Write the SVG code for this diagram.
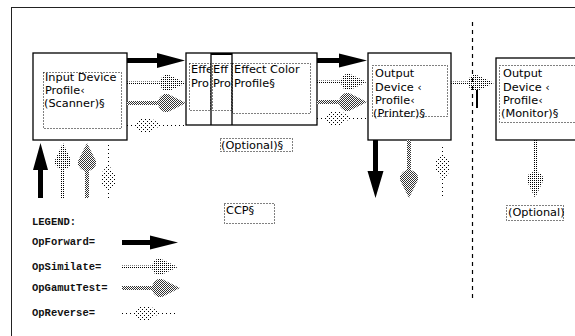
<svg xmlns="http://www.w3.org/2000/svg" width="575" height="336" viewBox="0 0 575 336">
<style>
.box{fill:#fff;stroke:#000;stroke-width:1.3}
.dot{fill:none;stroke:#000;stroke-width:1;stroke-dasharray:1 2}
.t{font-family:"DejaVu Sans",sans-serif;font-size:11.3px;fill:#000}
.lg{font-family:"Liberation Mono",monospace;font-size:10.5px;font-weight:bold;fill:#111}
.fwd{fill:#000}
.sim{fill:url(#pSim)}
.gam{fill:url(#pGam)}
.rev{fill:url(#pRev)}
</style>
<defs>
<pattern id="pSim" width="2" height="2" patternUnits="userSpaceOnUse"><rect width="1" height="1" fill="#000"/></pattern>
<pattern id="pGam" width="2" height="2" patternUnits="userSpaceOnUse"><rect width="2" height="2" fill="#fff"/><rect width="1" height="1" fill="#333"/><rect x="1" y="1" width="1" height="1" fill="#333"/></pattern>
<pattern id="pRev" width="4" height="4" patternUnits="userSpaceOnUse"><rect width="1" height="1" fill="#000"/><rect x="2" y="2" width="1" height="1" fill="#000"/></pattern>
<clipPath id="c1"><rect x="187" y="54" width="23" height="70"/></clipPath>
<clipPath id="c2"><rect x="212" y="56" width="19" height="68"/></clipPath>
</defs>
<rect width="575" height="336" fill="#fff"/>
<rect x="11.5" y="7.5" width="600" height="400" fill="none" stroke="#222" stroke-width="1"/>
<line x1="472.5" y1="22" x2="472.5" y2="302" stroke="#000" stroke-width="1.2" stroke-dasharray="4 4"/>

<g id="input">
<rect class="box" x="33" y="53" width="94" height="87"/>
<rect class="dot" x="43.5" y="72.5" width="78" height="56"/>
<text class="t" x="45" y="81">Input Device</text>
<text class="t" x="45" y="94">Profile‹</text>
<text class="t" x="44" y="107">(Scanner)§</text>
</g>

<g id="effect">
<rect class="box" x="186" y="53" width="131" height="72"/>
<line x1="211" y1="53" x2="211" y2="125" stroke="#000" stroke-width="1.3"/>
<line x1="232" y1="53" x2="232" y2="125" stroke="#000" stroke-width="1.3"/>
<line x1="211" y1="54" x2="232" y2="54" stroke="#000" stroke-width="2"/>
<rect class="dot" x="189.5" y="63.5" width="21" height="47"/>
<rect class="dot" x="212.5" y="63.5" width="19" height="47"/>
<rect class="dot" x="232.5" y="63.5" width="78" height="50"/>
<g clip-path="url(#c1)">
<text class="t" x="191" y="73">Effe</text>
<text class="t" x="191" y="87">Pro</text>
</g>
<g clip-path="url(#c2)">
<text class="t" x="213" y="73">Eff</text>
<text class="t" x="213" y="87">Pro</text>
</g>
<text class="t" x="234" y="73">Effect Color</text>
<text class="t" x="234" y="87">Profile§</text>
</g>

<g id="optional1">
<rect class="dot" x="220.5" y="138.5" width="72" height="13"/>
<text class="t" x="221" y="149">(Optional)§</text>
</g>

<g id="printer">
<rect class="box" x="368" y="53" width="83" height="87"/>
<rect class="dot" x="372.5" y="65.5" width="75" height="51"/>
<text class="t" x="375" y="77">Output</text>
<text class="t" x="375" y="91">Device ‹</text>
<text class="t" x="375" y="104">Profile‹</text>
<text class="t" x="373" y="117">(Printer)§</text>
</g>

<g id="monitor">
<rect class="box" x="496" y="58" width="100" height="82"/>
<rect class="dot" x="499.5" y="65.5" width="90" height="57"/>
<text class="t" x="503" y="77">Output</text>
<text class="t" x="503" y="91">Device ‹</text>
<text class="t" x="503" y="104">Profile‹</text>
<text class="t" x="501" y="117">(Monitor)§</text>
</g>

<g id="optional2">
<rect class="dot" x="506.5" y="205.5" width="57" height="15"/>
<text class="t" x="508" y="216">(Optional)</text>
</g>

<g id="ccp">
<rect class="dot" x="224.5" y="203.5" width="50" height="20"/>
<text class="t" x="226" y="214">CCP§</text>
</g>

<g id="connectors">
<path class="fwd" transform="translate(127,60.5)" d="M0,-2.5 H30 V-7.5 L58,0 L30,7.5 V2.5 H0 Z"/>
<path class="sim" transform="translate(127,83)" d="M0,-1.5 H33 L35,-6 L38,-8 L42,-8 L59,0 L42,8 L38,8 L35,6 L33,1.5 H0 Z"/>
<path class="gam" transform="translate(127,103)" d="M0,-2 H31 L33,-6 L37,-9 L41,-9 L59,0 L41,9 L37,9 L33,6 L31,2 H0 Z"/>
<path class="rev" transform="translate(127,125)" d="M0,-1 H59 V1 H0 Z M6,0 L14,-7 L24,-7 L34,0 L24,7 L14,7 Z"/>

<path class="fwd" transform="translate(317,60.5)" d="M0,-2.5 H22 V-7 L50,0 L22,7 V2.5 H0 Z"/>
<path class="sim" transform="translate(317,82)" d="M0,-1.5 H24 L26,-6 L29,-8 L33,-8 L50,0 L33,8 L29,8 L26,6 L24,1.5 H0 Z"/>
<path class="gam" transform="translate(317,102)" d="M0,-2 H22 L24,-6 L28,-9 L32,-9 L50,0 L32,9 L28,9 L24,6 L22,2 H0 Z"/>
<path class="rev" transform="translate(317,118)" d="M0,-1 H50 V1 H0 Z M6,0 L14,-7 L24,-7 L34,0 L24,7 L14,7 Z"/>

<path class="sim" transform="translate(451,83)" d="M0,-1.5 H17 L19,-6 L22,-8 L26,-8 L43,0 L26,8 L22,8 L19,6 L17,1.5 H0 Z"/>
<line x1="477" y1="90" x2="477" y2="108" stroke="#000" stroke-width="2"/>

<path class="fwd" transform="translate(40.5,198) rotate(-90)" d="M0,-2.5 H28 V-7.5 L55,0 L28,7.5 V2.5 H0 Z"/>
<path class="sim" transform="translate(63,198) rotate(-90)" d="M0,-2 H29 L31,-6 L34,-8 L38,-8 L55,0 L38,8 L34,8 L31,6 L29,2 H0 Z"/>
<path class="gam" transform="translate(87,198) rotate(-90)" d="M0,-2 H27 L29,-6 L33,-9 L37,-9 L55,0 L37,9 L33,9 L29,6 L27,2 H0 Z"/>
<path class="rev" transform="translate(108,198) rotate(-90)" d="M0,-1 H55 V1 H0 Z M6,0 L14,-7 L24,-7 L34,0 L24,7 L14,7 Z"/>

<path class="fwd" transform="translate(375.5,140) rotate(90)" d="M0,-2.5 H31 V-8 L58,0 L31,8 V2.5 H0 Z"/>
<path class="gam" transform="translate(409,140) rotate(90)" d="M0,-2 H30 L32,-6 L36,-9 L40,-9 L58,0 L40,9 L36,9 L32,6 L30,2 H0 Z"/>
<path class="rev" transform="translate(443,147) rotate(90)" d="M0,-1 H51 V1 H0 Z M6,0 L14,-7 L24,-7 L34,0 L24,7 L14,7 Z"/>

<path class="sim" transform="translate(535,140) rotate(90)" d="M0,-2 H32 L34,-6 L37,-8 L41,-8 L58,0 L41,8 L37,8 L34,6 L32,2 H0 Z"/>
</g>

<g id="legend">
<text class="lg" x="32" y="225">LEGEND:</text>
<text class="lg" x="32" y="245">OpForward=</text>
<text class="lg" x="32" y="270">OpSimilate=</text>
<text class="lg" x="32" y="291">OpGamutTest=</text>
<text class="lg" x="32" y="316">OpReverse=</text>
<path class="fwd" transform="translate(122,242.5)" d="M0,-2.5 H28 V-7 L56,0 L28,7 V2.5 H0 Z"/>
<path class="sim" transform="translate(122,267)" d="M0,-1.5 H30 L32,-6 L35,-8 L39,-8 L56,0 L39,8 L35,8 L32,6 L30,1.5 H0 Z"/>
<path class="gam" transform="translate(122,288)" d="M0,-2 H30 L32,-6 L36,-9 L40,-9 L58,0 L40,9 L36,9 L32,6 L30,2 H0 Z"/>
<path class="rev" transform="translate(122,313)" d="M0,-1 H56 V1 H0 Z M10,0 L18,-7 L28,-7 L38,0 L28,7 L18,7 Z"/>
</g>
</svg>
